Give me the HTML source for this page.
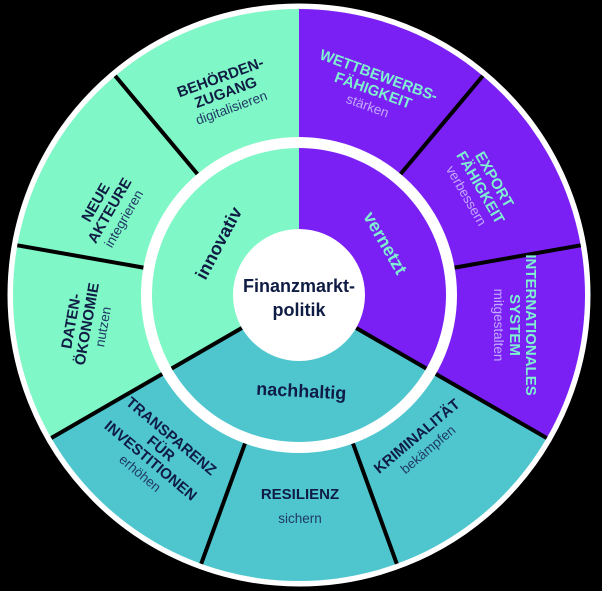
<!DOCTYPE html>
<html><head><meta charset="utf-8"><style>
html,body{margin:0;padding:0;background:#000;}
svg{display:block;}
text{font-family:"Liberation Sans",sans-serif;text-anchor:middle;}
.h{font-weight:bold;font-size:15px;fill:#0f1c44;}
.s{font-size:13.5px;fill:#1f3a66;}
.hp{font-weight:bold;font-size:15px;fill:#7ff0d0;}
.sp{font-size:13.5px;fill:#c3aaff;}
.in{font-weight:bold;font-size:18px;fill:#0f1c44;}
.inp{font-weight:bold;font-size:18px;fill:#7ff0d0;}
</style></head><body>
<svg width="602" height="591" viewBox="0 0 602 591" xmlns="http://www.w3.org/2000/svg">
<rect width="602" height="591" fill="#000"/>
<circle cx="299" cy="295" r="290" fill="#fff"/>
<path d="M299 295 L51.3 438 A286 286 0 0 1 299 9 Z" fill="#80f7c6"/>
<path d="M299 295 L299 9 A286 286 0 0 1 546.7 438 Z" fill="#7a20f5"/>
<path d="M299 295 L546.7 438 A286 286 0 0 1 51.3 438 Z" fill="#4fc6ce"/>
<circle cx="299" cy="295" r="158" fill="#fff"/>
<path d="M299 295 L171.7 368.5 A147 147 0 0 1 299 148 Z" fill="#80f7c6"/>
<path d="M299 295 L299 148 A147 147 0 0 1 426.3 368.5 Z" fill="#7a20f5"/>
<path d="M299 295 L426.3 368.5 A147 147 0 0 1 171.7 368.5 Z" fill="#4fc6ce"/>
<g stroke="#000" stroke-width="4">
<line x1="197.4" y1="174" x2="115.2" y2="75.9"/>
<line x1="400.6" y1="174" x2="482.8" y2="75.9"/>
<line x1="454.6" y1="267.6" x2="580.7" y2="245.3"/>
<line x1="435.8" y1="374" x2="546.7" y2="438"/>
<line x1="353" y1="443.5" x2="396.8" y2="563.8"/>
<line x1="245" y1="443.5" x2="201.2" y2="563.8"/>
<line x1="162.2" y1="374" x2="51.3" y2="438"/>
<line x1="143.4" y1="267.6" x2="17.3" y2="245.3"/>
<line x1="356.2" y1="328" x2="426.3" y2="368.5"/>
<line x1="241.8" y1="328" x2="171.7" y2="368.5"/>
</g>
<circle cx="299" cy="295" r="66" fill="#fff"/>
<circle cx="299" cy="295" r="289" fill="none" stroke="#fff" stroke-width="5"/>

<text class="in" x="299" y="292" style="font-size:18px">Finanzmarkt-</text>
<text class="in" x="299" y="316" style="font-size:18px">politik</text>

<text class="in" transform="translate(224,246) rotate(-62)">innovativ</text>
<text class="inp" transform="translate(380,246) rotate(60)">vernetzt</text>
<text class="in" transform="translate(301,397) rotate(3)">nachhaltig</text>

<g transform="translate(222,82) rotate(-20)">
<text class="h" y="0">BEHÖRDEN-</text><text class="h" y="16">ZUGANG</text><text class="s" y="32">digitalisieren</text></g>
<g transform="translate(377,80) rotate(20)">
<text class="hp" y="0">WETTBEWERBS-</text><text class="hp" y="16">FÄHIGKEIT</text><text class="sp" y="32">stärken</text></g>
<g transform="translate(490,182) rotate(60)">
<text class="hp" y="0">EXPORT</text><text class="hp" y="16">FÄHIGKEIT</text><text class="sp" y="32">verbessern</text></g>
<g transform="translate(526,325) rotate(90)">
<text class="hp" y="0">INTERNATIONALES</text><text class="hp" y="16">SYSTEM</text><text class="sp" y="32">mitgestalten</text></g>
<g transform="translate(420,440) rotate(-40)">
<text class="h" y="0">KRIMINALITÄT</text><text class="s" y="17">bekämpfen</text></g>
<g transform="translate(300,499)">
<text class="h" y="0">RESILIENZ</text><text class="s" y="24">sichern</text></g>
<g transform="translate(168,440) rotate(40)">
<text class="h" y="0">TRANSPARENZ</text><text class="h" y="16">FÜR</text><text class="h" y="32">INVESTITIONEN</text><text class="s" y="48">erhöhen</text></g>
<g transform="translate(76,322) rotate(-80)">
<text class="h" y="0">DATEN-</text><text class="h" y="16">ÖKONOMIE</text><text class="s" y="32">nutzen</text></g>
<g transform="translate(100,205) rotate(-60)">
<text class="h" y="0">NEUE</text><text class="h" y="16">AKTEURE</text><text class="s" y="32">integrieren</text></g>
</svg>
</body></html>
